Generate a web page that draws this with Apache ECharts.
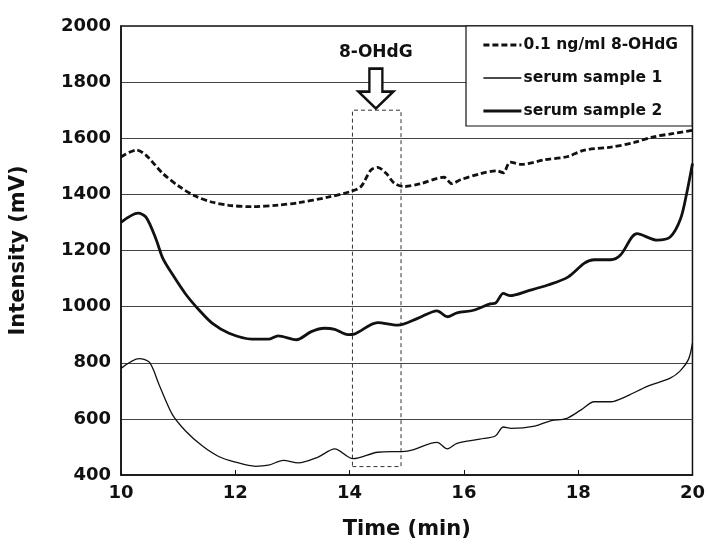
<!DOCTYPE html>
<html>
	<head>
		<meta charset="utf-8">
		<title></title>
		<script type="text/javascript" src="https://cdn.jsdelivr.net/npm/echarts@6/dist/echarts.min.js"></script>
	</head>
	<body style="margin:0;background:#fff;">
		<div id="main" style="width: 708px;height:545px;"></div>
	</body>
	<script type="text/javascript">
	        // 数据 (time in min, intensity in mV)
	        var std = [[10.0,1533],[10.27,1558],[10.44,1539],[10.73,1475],[11.02,1428],[11.31,1393],[11.6,1372],[11.89,1361],[12.29,1356],[12.75,1362],[13.1,1370],[13.62,1390],[14.03,1411],[14.2,1428],[14.37,1486],[14.49,1496],[14.64,1475],[14.78,1440],[14.95,1428],[15.24,1438],[15.65,1461],[15.79,1438],[15.94,1452],[16.28,1473],[16.57,1484],[16.69,1477],[16.81,1515],[17.01,1507],[17.41,1523],[17.82,1535],[18.11,1558],[18.57,1568],[18.98,1585],[19.32,1605],[19.67,1617],[20.0,1628]];
	        var sample1 = [[10.0,780],[10.32,815],[10.5,801],[10.67,720],[10.9,615],[11.13,557],[11.42,504],[11.71,466],[12.0,446],[12.35,431],[12.58,435],[12.84,452],[13.1,443],[13.45,464],[13.74,493],[14.06,458],[14.49,481],[15.01,485],[15.53,516],[15.71,493],[15.88,513],[16.28,528],[16.55,539],[16.69,571],[16.83,566],[17.24,574],[17.53,594],[17.79,601],[18.05,632],[18.28,661],[18.57,661],[18.86,682],[19.21,716],[19.61,745],[19.79,772],[19.93,812],[20.0,870]];
	        var sample2 = [[10.0,1300],[10.3,1333],[10.44,1318],[10.61,1242],[10.73,1173],[10.9,1115],[11.13,1045],[11.37,987],[11.6,940],[11.89,905],[12.29,884],[12.58,884],[12.75,896],[13.07,882],[13.33,911],[13.56,923],[13.74,919],[13.97,900],[14.08,902],[14.49,943],[14.84,934],[15.19,958],[15.53,985],[15.71,964],[15.88,978],[16.17,987],[16.46,1010],[16.55,1012],[16.69,1047],[16.81,1039],[17.12,1056],[17.47,1077],[17.82,1105],[18.11,1155],[18.28,1167],[18.57,1167],[18.74,1184],[19.03,1260],[19.38,1237],[19.61,1248],[19.79,1312],[19.9,1405],[20.0,1510]];
	        var names = ['0.1 ng/ml 8-OHdG', 'serum sample 1', 'serum sample 2'];
	        var peakBox = [[14.05, 430], [14.9, 1700]];
	        var peakMark = [14.46, 1777];

	        var myChart = echarts.init(document.getElementById('main'));
	        var font = 'DejaVu Sans';
	        var styles = [
	            { color: '#111', width: 2.8, type: [6, 3] },
	            { color: '#111', width: 1.3, type: 'solid' },
	            { color: '#111', width: 2.8, type: 'solid' }
	        ];

	        myChart.setOption({
                animation: false,
                backgroundColor: '#fff',
                grid: {
                    left: 118, right: 14, top: 26, bottom: 60,
                    show: true, borderColor: '#111', borderWidth: 1.5
                },
                legend: {
                    data: names.map(function (n, i) {
                        return { name: n, lineStyle: styles[i], itemStyle: { opacity: 0 } };
                    }),
                    orient: 'vertical',
                    left: 466, top: 26,
                    itemWidth: 38, itemHeight: 10, itemGap: 17,
                    padding: [11, 14, 7, 16],
                    borderColor: '#111', borderWidth: 1.2,
                    backgroundColor: '#fff',
                    itemStyle: { opacity: 0 },
                    textStyle: { fontFamily: font, fontWeight: 'bold', fontSize: 15.5, color: '#111', padding: [0, 0, 0, -3] }
                },
                xAxis: {
                    type: 'value', min: 10, max: 20, interval: 2,
                    name: 'Time (min)', nameLocation: 'middle', nameGap: 44,
                    nameTextStyle: { fontFamily: font, fontWeight: 'bold', fontSize: 21, color: '#111' },
                    axisLine: { lineStyle: { color: '#111', width: 1.5 } },
                    axisTick: { inside: true, length: 5, lineStyle: { color: '#111' } },
                    axisLabel: { fontFamily: font, fontWeight: 'bold', fontSize: 18, color: '#111', margin: 9 },
                    splitLine: { show: false }
                },
                yAxis: {
                    type: 'value', min: 400, max: 2000, interval: 200,
                    name: 'Intensity (mV)', nameLocation: 'middle', nameGap: 92,
                    nameTextStyle: { fontFamily: font, fontWeight: 'bold', fontSize: 21, color: '#111' },
                    axisLine: { lineStyle: { color: '#111', width: 1.5 } },
                    axisTick: { show: false },
                    axisLabel: {
                        fontFamily: font, fontWeight: 'bold', fontSize: 18, color: '#111', margin: 10,
                        formatter: function (v) { return String(v); }
                    },
                    splitLine: { lineStyle: { color: '#444', width: 1.2 } }
                },
                series: [
                    {
                        name: names[0], type: 'line', data: std, symbol: 'none', smooth: 0.3,
                        lineStyle: styles[0],
                        itemStyle: { color: '#111' },
                        z: 3
                    },
                    {
                        name: names[1], type: 'line', data: sample1, symbol: 'none', smooth: 0.3,
                        lineStyle: styles[1],
                        itemStyle: { color: '#111' },
                        markArea: {
                            silent: true,
                            itemStyle: { color: 'rgba(0,0,0,0)', borderColor: '#333', borderWidth: 1, borderType: [4, 3] },
                            data: [[{ coord: peakBox[0] }, { coord: peakBox[1] }]]
                        },
                        markPoint: {
                            silent: true,
                            symbol: 'path://M11,0 L24,0 L24,23 L35,23 L17.5,40 L0,23 L11,23 Z',
                            symbolSize: [35, 40],
                            itemStyle: { color: '#fff', borderColor: '#111', borderWidth: 2.5, opacity: 1 },
                            label: {
                                show: true, position: 'top', distance: 6,
                                formatter: '8-OHdG',
                                fontFamily: font, fontWeight: 'bold', fontSize: 17, color: '#111'
                            },
                            data: [{ coord: peakMark }]
                        }
                    },
                    {
                        name: names[2], type: 'line', data: sample2, symbol: 'none', smooth: 0.3,
                        lineStyle: styles[2],
                        itemStyle: { color: '#111' }
                    }
                ]
            });
	    </script>
</html>
